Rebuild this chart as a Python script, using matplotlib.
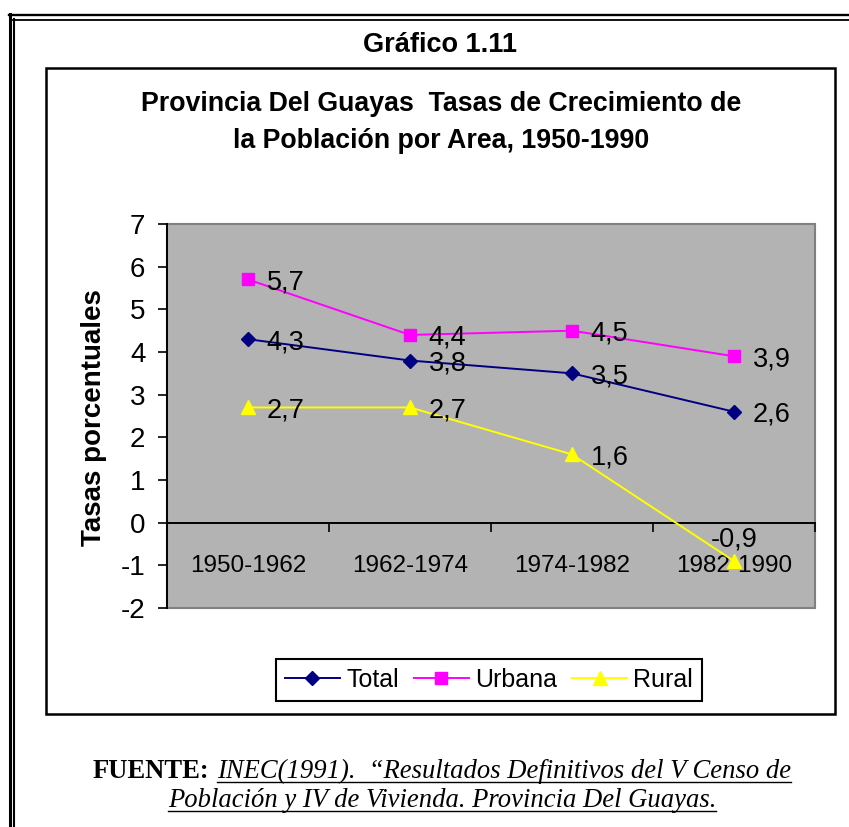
import matplotlib
matplotlib.use('Agg')
import matplotlib.pyplot as plt
import matplotlib.patches as patches
from matplotlib.lines import Line2D
import numpy as np

# datos del grafico
periodos = ['1950-1962', '1962-1974', '1974-1982', '1982-1990']
total = [4.3, 3.8, 3.5, 2.6]
urbana = [5.7, 4.4, 4.5, 3.9]
rural = [2.7, 2.7, 1.6, -0.9]
yticks = [-2, -1, 0, 1, 2, 3, 4, 5, 6, 7]

W, H = 849, 827
plt.rcParams['font.family'] = 'Liberation Sans'


def fx(px):
    return px / W


def fy(py):
    return 1 - py / H


fig = plt.figure(figsize=(W / 100, H / 100), dpi=100)

# marco doble exterior (sigue fuera de la imagen a la derecha y abajo)
for xx, y0, lw in [(9.5, 14, 2.2), (14, 18.5, 1.5)]:
    fig.add_artist(Line2D([fx(xx), fx(xx)], [fy(y0), fy(H)], color='black', lw=lw))
for yy, x0, lw in [(15, 8.5, 1.7), (19.5, 13, 1.3)]:
    fig.add_artist(Line2D([fx(x0), fx(W)], [fy(yy), fy(yy)], color='black', lw=lw))

# recuadro del grafico
fig.add_artist(patches.Rectangle((fx(46), fy(714)), fx(835) - fx(46), fy(68) - fy(714),
                                 fill=False, ec='black', lw=1.8))

fig.text(fx(440), fy(45), 'Gráfico 1.11', ha='center', va='center', fontsize=19.5, fontweight='bold')
fig.text(fx(441), fy(104), 'Provincia Del Guayas  Tasas de Crecimiento de',
         ha='center', va='center', fontsize=19.3, fontweight='bold')
fig.text(fx(441), fy(141), 'la Población por Area, 1950-1990',
         ha='center', va='center', fontsize=19.3, fontweight='bold')

ax = fig.add_axes([fx(167), fy(608), fx(815) - fx(167), fy(224) - fy(608)])
ax.set_facecolor('#b3b3b3')

x = np.arange(len(periodos))
series = [('Total', total, '#000080', 'D', 7.0),
          ('Urbana', urbana, '#ff00ff', 's', 8.5),
          ('Rural', rural, '#ffff00', '^', 9.5)]

for name, vals, col, mk, ms in series:
    ax.plot(x, vals, color=col, marker=mk, ms=ms, mec=col, lw=1.4, label=name, zorder=3, clip_on=False)
    for i, v in enumerate(vals):
        lab = ('%.1f' % v).replace('.', ',')
        if v < 0:
            ax.annotate(lab, (x[i], v), xytext=(0, 18), textcoords='offset points',
                        ha='center', va='center_baseline', fontsize=19.5, zorder=4)
        else:
            ax.annotate(lab, (x[i], v), xytext=(13.5, 0), textcoords='offset points',
                        ha='left', va='center_baseline', fontsize=19.5, zorder=4)

ax.set_xlim(-0.5, 3.5)
ax.set_ylim(-2, 7)

ax.spines['bottom'].set_position(('data', 0))
ax.spines['bottom'].set_linewidth(1.4)
ax.spines['left'].set_linewidth(1.4)
ax.spines['top'].set_visible(False)
ax.spines['right'].set_visible(False)
ax.add_patch(patches.Rectangle((0, 0), 1, 1, transform=ax.transAxes, fill=False,
                               ec='#808080', lw=1.5, clip_on=False, zorder=1))

ax.set_yticks(yticks)
ax.set_yticklabels([str(t) for t in yticks])
ax.set_xticks(x)
ax.set_xticklabels(periodos)
ax.set_xticks(x + 0.5, minor=True)

ax.tick_params(axis='x', which='major', length=0, pad=23.5, labelsize=17.5)
ax.tick_params(axis='x', which='minor', length=6.5, width=1.2, direction='out')
ax.tick_params(axis='y', length=6.5, width=1.2, pad=9, labelsize=20)

ax.set_ylabel('Tasas porcentuales', fontsize=20, fontweight='bold')
ax.yaxis.set_label_coords(-0.092, 0.497)

leg = fig.legend(loc='center', bbox_to_anchor=(fx(489), fy(680)), ncol=3, fontsize=18,
                 frameon=True, fancybox=False, edgecolor='black', framealpha=1,
                 handlelength=2.2, handletextpad=0.25, columnspacing=0.6, borderpad=0.35)
leg.get_frame().set_linewidth(1.5)

# fuente, con subrayado manual
r = fig.canvas.get_renderer()
serif = 'Liberation Serif'
t1 = fig.text(0, fy(778), 'FUENTE:', fontsize=19.2, family=serif, fontweight='bold', va='baseline')
t2 = fig.text(0, fy(778), 'INEC(1991).  “Resultados Definitivos del V Censo de',
              fontsize=19.2, family=serif, style='italic', va='baseline')
t3 = fig.text(0, fy(807), 'Población y IV de Vivienda. Provincia Del Guayas.',
              fontsize=19.2, family=serif, style='italic', va='baseline')
w1 = t1.get_window_extent(r).width
w2 = t2.get_window_extent(r).width
w3 = t3.get_window_extent(r).width
gap = 8
start = 442 - (w1 + gap + w2) / 2
t1.set_x(fx(start))
t2.set_x(fx(start + w1 + gap))
t3.set_x(fx(442 - w3 / 2))
for x0, w, yb in [(start + w1 + gap, w2, 782), (442 - w3 / 2, w3, 811)]:
    fig.add_artist(Line2D([fx(x0), fx(x0 + w)], [fy(yb), fy(yb)], color='black', lw=1.0))

fig.savefig('out.png', dpi=100)
